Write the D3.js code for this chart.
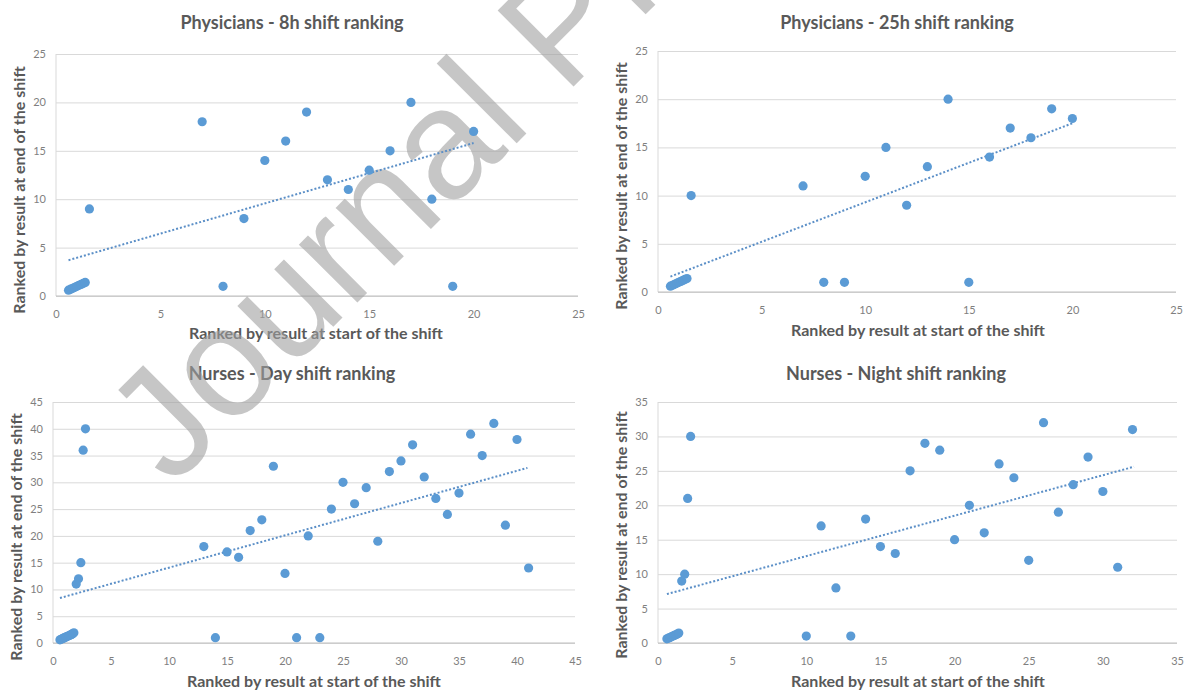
<!DOCTYPE html>
<meta charset="utf-8">
<style>
  body { margin: 0; background: #fff; }
  svg { display: block; }
  .title { font-family: Lato, "Noto Sans", sans-serif; font-weight: bold; fill: #595959; }
  .axis-title { font-family: Lato, "Noto Sans", sans-serif; font-weight: bold; fill: #595959; }
  .tick text { font-family: Lato, "Noto Sans", sans-serif; fill: #7f7f7f; font-size: 11px; }
  .grid line { stroke: #d9d9d9; stroke-width: 1px; }
  .grid path { stroke-width: 0; }
  .trend { fill: none; stroke: #5b8fc7; stroke-width: 2px; stroke-dasharray: 2,2; }
</style>
<body>
<script src="https://d3js.org/d3.v7.min.js"></script>
<div id="chart"></div>
<script>

// ---- data ----
var phys8X  = [0.6,0.7,0.8,0.9,1.0,1.1,1.2,1.3,1.4, 1.6, 7, 8, 9,10,11,12,13,14,15,16,17,18,19,20];
var phys8Y  = [0.6,0.7,0.8,0.9,1.0,1.1,1.2,1.3,1.4, 9,  18, 1, 8,14,16,19,12,11,13,15,20,10, 1,17];
var phys8TrendX = [0.6, 20];
var phys8TrendY = [3.7, 15.8];

var phys25X = [0.6,0.7,0.8,0.9,1.0,1.1,1.2,1.3,1.4, 1.6, 7, 8, 9,10,11,12,13,14,15,16,17,18,19,20];
var phys25Y = [0.6,0.7,0.8,0.9,1.0,1.1,1.2,1.3,1.4, 10, 11, 1, 1,12,15, 9,13,20, 1,14,17,16,19,18];
var phys25TrendX = [0.6, 20];
var phys25TrendY = [1.6, 17.5];

var nurseDayX = [0.6,0.7,0.8,0.9,1.0,1.1,1.2,1.3,1.4,1.5,1.6,1.7,1.8, 2.0,2.2,2.4,2.6,2.8,
                 13,14,15,16,17,18,19,20,21,22,23,24,25,26,27,28,29,30,31,32,33,34,35,36,37,38,39,40,41];
var nurseDayY = [0.6,0.7,0.8,0.9,1.0,1.1,1.2,1.3,1.4,1.5,1.6,1.75,1.9, 11,12,15,36,40,
                 18, 1,17,16,21,23,33,13, 1,20, 1,25,30,26,29,19,32,34,37,31,27,24,28,39,35,41,22,38,14];
var nurseDayTrendX = [0.6, 40.9];
var nurseDayTrendY = [8.4, 32.7];

var nurseNightX = [0.6,0.7,0.8,0.9,1.0,1.1,1.2,1.3,1.4, 1.6,1.8,2.0,2.2,
                   10,11,12,13,14,15,16,17,18,19,20,21,22,23,24,25,26,27,28,29,30,31,32];
var nurseNightY = [0.6,0.7,0.8,0.9,1.0,1.1,1.2,1.3,1.45, 9,10,21,30,
                    1,17, 8, 1,18,14,13,25,29,28,15,20,16,26,24,12,32,19,23,27,22,11,31];
var nurseNightTrendX = [0.6, 32.1];
var nurseNightTrendY = [7.1, 25.6];

var ticks25 = [0,5,10,15,20,25];
var ticks35 = [0,5,10,15,20,25,30,35];
var ticks45 = [0,5,10,15,20,25,30,35,40,45];

var xLabel = "Ranked by result at start of the shift";
var yLabel = "Ranked by result at end of the shift";

var width = 1185, height = 691;

var svg = d3.select("#chart").append("svg")
    .attr("width", width)
    .attr("height", height);

// layers: chart furniture, then watermark over it, then the marks on top
var base  = svg.append("g");
var water = svg.append("g");
var marks = svg.append("g");

water.append("text")
    .attr("transform", "translate(172,488) rotate(-45)")
    .attr("font-family", "Liberation Sans, Arial, sans-serif")
    .attr("font-size", "156px")
    .attr("fill", "#a0a0a0")
    .attr("fill-opacity", 0.6)
    .text("Journal Pre-proof");

function drawPanel(p) {
  var x = d3.scaleLinear().domain([0, p.max]).range([p.left, p.right]);
  var y = d3.scaleLinear().domain([0, p.max]).range([p.bottom, p.top]);

  // horizontal gridlines
  base.append("g")
    .attr("class", "grid")
    .attr("transform", "translate(" + p.left + ",0)")
    .call(d3.axisLeft(y).tickValues(p.ticks).tickSize(-(p.right - p.left)).tickFormat(""));

  // left axis line
  base.append("line")
    .attr("x1", p.left).attr("x2", p.left)
    .attr("y1", p.top).attr("y2", p.bottom)
    .attr("stroke", "#d9d9d9");

  // bottom axis line
  base.append("line")
    .attr("x1", p.left).attr("x2", p.right)
    .attr("y1", p.bottom).attr("y2", p.bottom)
    .attr("stroke", "#bfbfbf");

  var gx = base.append("g")
    .attr("transform", "translate(0," + p.bottom + ")")
    .call(d3.axisBottom(x).tickValues(p.ticks).tickSize(0).tickPadding(14));
  gx.select(".domain").remove();

  var gy = base.append("g")
    .attr("transform", "translate(" + p.left + ",0)")
    .call(d3.axisLeft(y).tickValues(p.ticks).tickSize(0).tickPadding(10));
  gy.select(".domain").remove();

  // titles
  base.append("text")
    .attr("class", "title")
    .attr("x", p.titleX).attr("y", p.titleY)
    .attr("text-anchor", "middle")
    .attr("font-size", "18px")
    .text(p.title);

  base.append("text")
    .attr("class", "axis-title")
    .attr("x", p.xTitleX).attr("y", p.xTitleY)
    .attr("text-anchor", "middle")
    .attr("font-size", "16px")
    .text(xLabel);

  base.append("text")
    .attr("class", "axis-title")
    .attr("transform", "translate(" + p.yTitleX + "," + p.yTitleY + ") rotate(-90)")
    .attr("text-anchor", "middle")
    .attr("font-size", "16px")
    .text(yLabel);

  // trendline
  var trend = p.trendX.map(function(v, i) { return [v, p.trendY[i]]; });
  marks.append("path")
    .attr("class", "trend")
    .attr("d", d3.line().x(function(d) { return x(d[0]); }).y(function(d) { return y(d[1]); })(trend));

  // points
  var pts = p.xs.map(function(v, i) { return [v, p.ys[i]]; });
  marks.append("g")
    .selectAll("circle")
    .data(pts)
    .enter()
    .append("circle")
      .attr("cx", function(d) { return x(d[0]); })
      .attr("cy", function(d) { return y(d[1]); })
      .attr("r", 4.6)
      .attr("fill", "#5b9bd5");
}

drawPanel({ title: "Physicians - 8h shift ranking", xs: phys8X, ys: phys8Y,
  trendX: phys8TrendX, trendY: phys8TrendY, max: 25, ticks: ticks25,
  left: 56, right: 578, top: 54, bottom: 296,
  titleX: 292, titleY: 29, xTitleX: 316, xTitleY: 339, yTitleX: 25, yTitleY: 190 });

drawPanel({ title: "Physicians - 25h shift ranking", xs: phys25X, ys: phys25Y,
  trendX: phys25TrendX, trendY: phys25TrendY, max: 25, ticks: ticks25,
  left: 658, right: 1176, top: 51, bottom: 292,
  titleX: 897, titleY: 29, xTitleX: 918, xTitleY: 336, yTitleX: 627, yTitleY: 186 });

drawPanel({ title: "Nurses - Day shift ranking", xs: nurseDayX, ys: nurseDayY,
  trendX: nurseDayTrendX, trendY: nurseDayTrendY, max: 45, ticks: ticks45,
  left: 53, right: 575, top: 402, bottom: 643,
  titleX: 292, titleY: 380, xTitleX: 314, xTitleY: 687, yTitleX: 22, yTitleY: 537 });

drawPanel({ title: "Nurses - Night shift ranking", xs: nurseNightX, ys: nurseNightY,
  trendX: nurseNightTrendX, trendY: nurseNightTrendY, max: 35, ticks: ticks35,
  left: 658, right: 1177, top: 402, bottom: 643,
  titleX: 896, titleY: 380, xTitleX: 918, xTitleY: 687, yTitleX: 627, yTitleY: 535 });

</script>
</body>
</html>
